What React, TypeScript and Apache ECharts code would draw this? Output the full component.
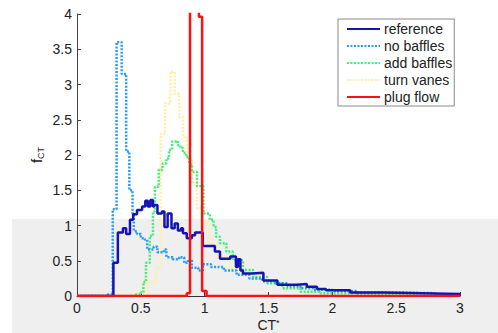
import React, { useEffect, useRef } from "react";
import * as echarts from "echarts";

const seriesNames = ["reference", "no baffles", "add baffles", "turn vanes", "plug flow"];
const xTicks = [0, 0.5, 1, 1.5, 2, 2.5, 3];

const refX = [0, 0.285, 0.32, 0.36, 0.385, 0.415, 0.44, 0.47, 0.51, 0.535, 0.555, 0.575, 0.595, 0.605, 0.63, 0.665, 0.685, 0.71, 0.74, 0.765, 0.79, 0.815, 0.83, 0.86, 0.9, 0.925, 0.985, 1.08, 1.12, 1.2, 1.245, 1.26, 1.28, 1.3, 1.37, 1.46, 1.57, 1.72, 1.8, 1.88, 1.95, 2.14, 2.4, 2.7, 3.0];
const refY = [0, 0.47, 0.9, 0.96, 0.88, 1.08, 1.16, 1.22, 1.27, 1.35, 1.27, 1.36, 1.27, 1.29, 1.17, 1.2, 0.98, 1.17, 0.96, 1.03, 0.93, 0.96, 0.89, 0.82, 0.86, 0.9, 0.71, 0.63, 0.53, 0.56, 0.41, 0.52, 0.36, 0.32, 0.33, 0.22, 0.16, 0.17, 0.13, 0.1, 0.08, 0.05, 0.04, 0.03, 0.02];

const noBafX = [0, 0.24, 0.28, 0.31, 0.35, 0.385, 0.41, 0.435, 0.445, 0.47, 0.5, 0.53, 0.55, 0.6, 0.63, 0.68, 0.7, 0.75, 0.8, 0.84, 0.87, 0.9, 0.95, 0.985, 1.05, 1.15, 1.25, 1.35, 1.45, 1.55, 1.65, 1.75, 1.85, 2.0, 2.2, 2.5, 2.8, 3.0];
const noBafY = [0, 0.02, 1.23, 3.6, 3.15, 2.05, 1.5, 1.17, 0.92, 0.88, 0.82, 0.8, 0.66, 0.7, 0.62, 0.66, 0.55, 0.52, 0.55, 0.47, 0.52, 0.4, 0.36, 0.45, 0.41, 0.36, 0.3, 0.25, 0.21, 0.18, 0.14, 0.11, 0.09, 0.07, 0.05, 0.04, 0.02, 0.02];

const addBafX = [0, 0.45, 0.5, 0.52, 0.54, 0.57, 0.595, 0.61, 0.64, 0.67, 0.7, 0.72, 0.745, 0.77, 0.79, 0.81, 0.83, 0.855, 0.88, 0.9, 0.94, 0.99, 1.04, 1.07, 1.09, 1.12, 1.17, 1.22, 1.3, 1.38, 1.49, 1.61, 1.75, 1.9, 2.2, 2.6, 3.0];
const addBafY = [0, 0.02, 0.05, 0.2, 0.47, 0.85, 1.2, 1.55, 1.79, 1.88, 1.95, 2.07, 2.19, 2.2, 2.14, 2.1, 2.03, 1.97, 1.87, 1.76, 1.56, 1.17, 1.08, 0.98, 0.84, 0.75, 0.63, 0.51, 0.37, 0.27, 0.18, 0.11, 0.06, 0.04, 0.02, 0.01, 0.01];

const vanesX = [0, 0.45, 0.55, 0.62, 0.655, 0.69, 0.73, 0.765, 0.8, 0.83, 0.86, 0.9, 0.94, 0.98, 1.03, 1.1, 1.2, 1.3, 1.45, 1.6, 1.8, 2.1, 2.5, 3.0];
const vanesY = [0, 0.05, 0.2, 0.4, 2.3, 2.73, 3.18, 2.87, 2.54, 2.26, 1.95, 1.6, 1.25, 1.05, 0.75, 0.55, 0.4, 0.3, 0.2, 0.13, 0.08, 0.05, 0.03, 0.02];

const plugX = [0, 0.86, 0.885, 0.955, 0.98, 1.015, 3.0];
const plugY = [0, 0.04, 12, 3.96, 0.07, 0, 0];

const pairs = (xs: number[], ys: number[]) => xs.map((x, i) => [x, ys[i]]);

const FONT = "Liberation Sans, Arial, sans-serif";

export default function App() {
  const ref = useRef<HTMLDivElement>(null);
  useEffect(() => {
    if (!ref.current) return;
    const chart = echarts.init(ref.current, undefined, { renderer: "svg" });
    const mk = (name: string, xs: number[], ys: number[], color: string, width: number, type: any, z: number) => ({
      name,
      type: "line",
      step: "end",
      data: pairs(xs, ys),
      symbol: "none",
      clip: true,
      z,
      lineStyle: { color, width, type },
      itemStyle: { color },
    });
    chart.setOption({
      animation: false,
      backgroundColor: "#ffffff",
      textStyle: { fontFamily: FONT },
      graphic: [
        {
          type: "rect",
          z: -10,
          silent: true,
          shape: { x: 12, y: 219, width: 486, height: 114 },
          style: { fill: "#efefef" },
        },
      ],
      grid: { left: 77, right: 38, top: 14, bottom: 37, containLabel: false, outerBoundsMode: "none" },
      legend: {
        data: seriesNames,
        orient: "vertical",
        left: 338,
        top: 19,
        padding: [3, 2, 2, 8],
        itemWidth: 33,
        itemHeight: 14,
        itemGap: 3,
        backgroundColor: "#ffffff",
        borderColor: "#8a8a8a",
        borderWidth: 1,
        borderRadius: 0,
        itemStyle: { opacity: 0 },
        textStyle: { fontFamily: FONT, fontSize: 14, color: "#222", lineHeight: 14, padding: [0, 0, 0, -1] },
      },
      xAxis: {
        type: "value",
        min: 0,
        max: 3,
        interval: 0.5,
        name: "{a|CT}{b|*}",
        nameLocation: "middle",
        nameGap: 22,
        nameMoveOverlap: false,
        nameTextStyle: {
          lineHeight: 13,
          rich: {
            a: { fontSize: 14, lineHeight: 13, color: "#222", fontFamily: FONT },
            b: { fontSize: 9, lineHeight: 13, color: "#222", fontFamily: FONT, verticalAlign: "top" },
          },
        },
        axisLine: { show: true, lineStyle: { color: "#333", width: 1 } },
        axisTick: { show: true, inside: true, length: 4, lineStyle: { color: "#333" } },
        axisLabel: { fontSize: 14, lineHeight: 13, color: "#222", margin: 5, fontFamily: FONT, formatter: (v: number) => (xTicks.includes(v) ? String(v) : "") },
        splitLine: { show: false },
      },
      yAxis: {
        type: "value",
        min: 0,
        max: 4,
        interval: 0.5,
        name: "{a|f}{b|CT}",
        nameLocation: "middle",
        nameGap: 32,
        nameMoveOverlap: false,
        nameRotate: 90,
        nameTextStyle: {
          rich: {
            a: { fontSize: 15, color: "#222", fontFamily: FONT },
            b: { fontSize: 9, color: "#222", fontFamily: FONT, padding: [8, 0, 0, 0] },
          },
        },
        axisLine: { show: true, lineStyle: { color: "#444", width: 1 } },
        axisTick: { show: true, inside: true, length: 4, lineStyle: { color: "#444" } },
        axisLabel: { fontSize: 14, color: "#222", margin: 5, fontFamily: FONT },
        splitLine: { show: false },
      },
      series: [
        mk("reference", refX, refY, "#1414b4", 2.5, "solid", 4),
        mk("no baffles", noBafX, noBafY, "#2a9cf5", 2.5, [2, 1.5], 3),
        mk("add baffles", addBafX, addBafY, "#44ee77", 2.5, [2, 1.5], 2),
        mk("turn vanes", vanesX, vanesY, "#fff0a6", 2.5, [2, 1.5], 1),
        mk("plug flow", plugX, plugY, "#ff1010", 2.5, "solid", 5),
      ],
    });
    return () => chart.dispose();
  }, []);
  return <div ref={ref} style={{ width: 498, height: 333, position: "absolute", left: 0, top: 0 }} />;
}
